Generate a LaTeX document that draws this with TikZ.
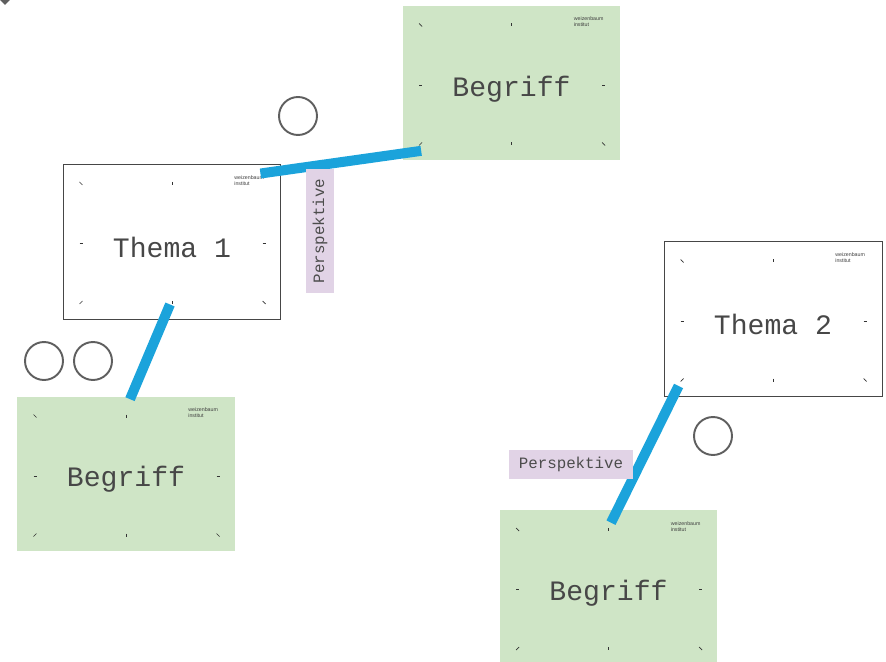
\documentclass[tikz,border=0pt]{standalone}
\usepackage{fontspec}
\setmonofont{Liberation Mono}
\setsansfont{Liberation Sans}
\usetikzlibrary{positioning}

\definecolor{begriffgruen}{RGB}{207,229,198}
\definecolor{perspektivlila}{RGB}{225,211,230}
\definecolor{bandblau}{RGB}{27,163,219}
\definecolor{kreisgrau}{RGB}{95,95,95}
\definecolor{randgrau}{RGB}{70,70,70}

\tikzset{
	karte/.style={minimum width=4.36cm, minimum height=3.1cm, inner sep=0pt},
	thema/.style={karte, draw=randgrau, line width=0.55pt, fill=white},
	begriff/.style={karte, fill=begriffgruen},
	kartentext/.style={font=\ttfamily\fontsize{16}{18}\selectfont, text=black!72},
	strich/.style={black!80, line width=0.4pt},
	logo/.style={font=\sffamily\fontsize{3}{3.4}\selectfont, text=black!75, align=left, inner sep=0pt, anchor=west},
	perspektive/.style={fill=perspektivlila, font=\ttfamily\fontsize{9}{10}\selectfont, text=black!70, minimum height=0.57cm, inner xsep=0.2cm},
	band/.style={bandblau, line width=5.7pt},
	kreis/.style={kreisgrau, line width=1.1pt}
}

% kleine Markierungen und Logo auf jeder Karte
\newcommand{\kartendeko}[1]{%
	\foreach \dx/\dy/\ex/\ey in {-91/-58/1.5/1.5, 0/-58/0/1.5, -91/2/1.5/0, 92/2/1.5/0, -91/61/1.5/-1.5, 0/61/0/1.5, 92/61/1.5/1.5}
		\draw[strich] ([shift={(\dx-\ex,\dy-\ey)}]#1.center) -- ([shift={(\dx+\ex,\dy+\ey)}]#1.center);
	\node[logo] at ([shift={(62,-61)}]#1.center) {weizenbaum\\institut};
}

\begin{document}
\begin{tikzpicture}[x=0.02cm, y=-0.02cm]
	\useasboundingbox (0,0) rectangle (886,662);
	\fill[kreisgrau] (0,0) -- (5,5) -- (10,0) -- (5,-5) -- cycle;

	% Karten
	\node[begriff] (b1) at (511.5,83) {};
	\node[thema] (t1) at (172,241.5) {};
	\node[begriff] (b2) at (126,474) {};
	\node[thema] (t2) at (773,319) {};
	\node[begriff] (b3) at (608.5,587.5) {};

	\kartendeko{b1}
	\kartendeko{t1}
	\kartendeko{b2}
	\kartendeko{t2}
	\kartendeko{b3}

	\node[kartentext] (b1-text) at ([shift={(0,6)}]b1.center) {Begriff};
	\node[kartentext] (t1-text) at ([shift={(0,5.5)}]t1.center) {Thema 1};
	\node[kartentext] (b2-text) at ([shift={(0,5)}]b2.center) {Begriff};
	\node[kartentext] (t2-text) at ([shift={(0,5.5)}]t2.center) {Thema 2};
	\node[kartentext] (b3-text) at ([shift={(0,5.5)}]b3.center) {Begriff};

	% Verbindungen
	\draw[band] ([shift={(-21,10)}]t1.north east) -- ([shift={(19,-10)}]b1.south west);
	\draw[band] ([shift={(-2,-15)}]t1.south) -- ([shift={(4,3)}]b2.north);
	\draw[band] ([shift={(15,-11)}]t2.south west) -- ([shift={(2.5,13)}]b3.north);

	\node[perspektive, rotate=90] (p1) at (320,231) {Perspektive};
	\node[perspektive] (p2) at (571,464.5) {Perspektive};

	% Kreise
	\foreach \cx/\cy in {298/116, 44/361, 93/361, 713/436}
		\draw[kreis] (\cx,\cy) circle[radius=0.38cm];
\end{tikzpicture}
\end{document}
